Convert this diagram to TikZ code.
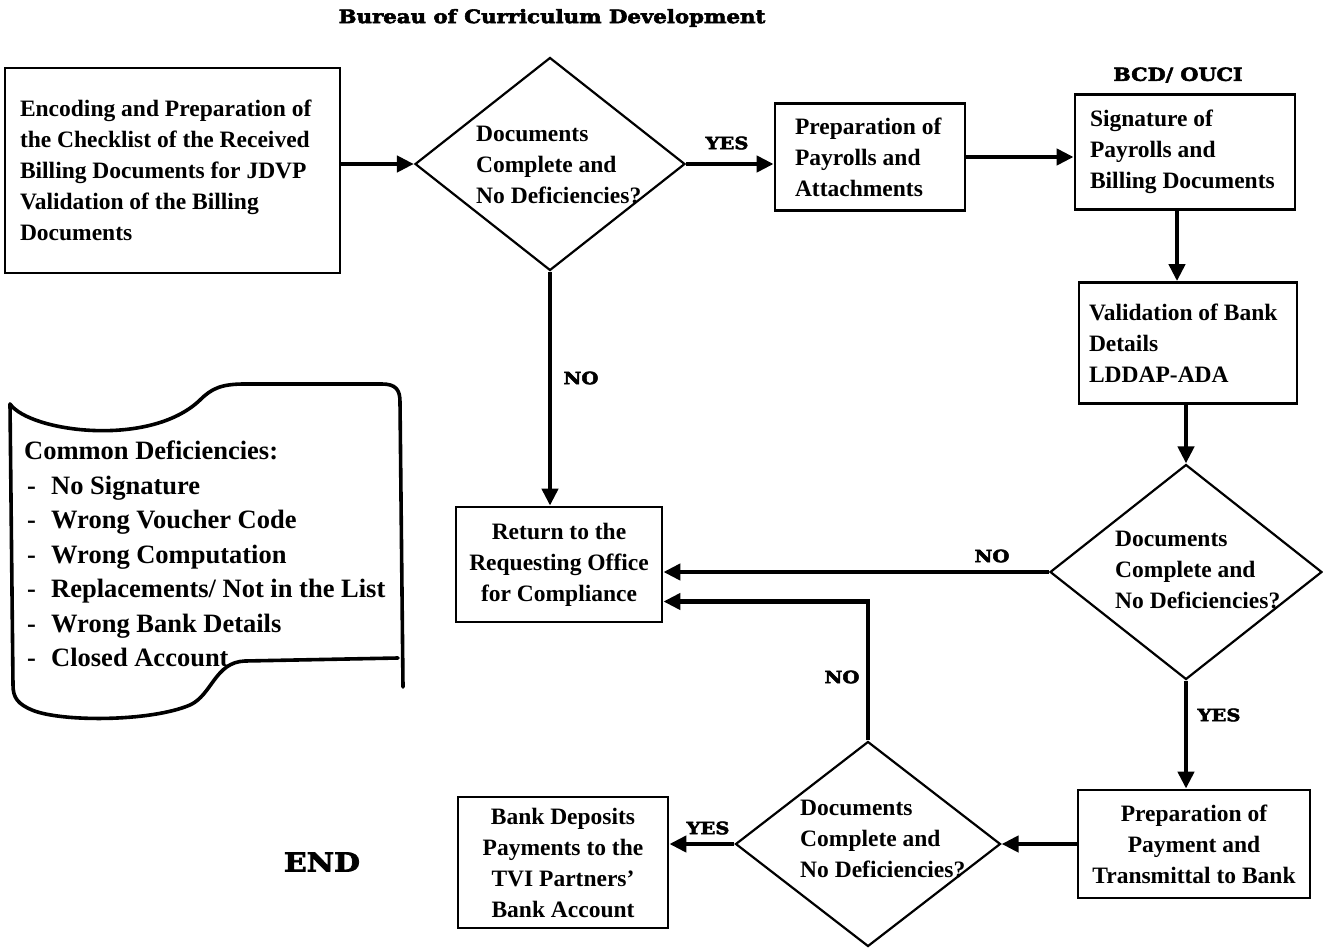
\documentclass[tikz,border=0pt]{standalone}
\usepackage{fontspec}
\setmainfont{Liberation Serif}
\newfontfamily\heavyfont[FakeStretch=1.15, FakeBold=3, BoldFeatures={FakeBold=3}]{DejaVu Serif}
\usetikzlibrary{shapes.geometric,arrows.meta}
\begin{document}
\begin{tikzpicture}[x=1pt,y=-1pt,
  txt/.style={font=\bfseries\fontsize{23.5}{31}\selectfont},
  box/.style={draw, line width=2.8pt, txt, inner sep=0pt, align=flush left},
  cbox/.style={draw, line width=2.8pt, txt, inner sep=0pt, align=center},
  dia/.style={diamond, draw, line width=2.2pt, inner sep=0pt},
  dtxt/.style={txt, align=flush left, anchor=west, inner sep=0pt},
  arr/.style={line width=4.4pt, -{Triangle[length=17pt,width=16pt]}},
  lbl/.style={font=\heavyfont\bfseries\fontsize{17}{17}\selectfont, inner sep=0pt},
]
\useasboundingbox (0,0) rectangle (1323,950);

% title labels
\node[lbl, font=\heavyfont\bfseries\fontsize{18.5}{18.5}\selectfont] (title) at (552,18) {Bureau of Curriculum Development};
\node[lbl, font=\heavyfont\bfseries\fontsize{18}{18}\selectfont] (bcd) at (1178,75) {BCD/ OUCI};
\node[lbl, font=\heavyfont\bfseries\fontsize{26}{26}\selectfont] (endl) at (322,862) {END};

% boxes
\node[box, minimum width=335pt, minimum height=205pt, text width=305pt] (b1) at (172.5,170.5)
  {Encoding and Preparation of\\the Checklist of the Received\\Billing Documents for JDVP\\Validation of the Billing\\Documents};
\node[dia, minimum width=270pt, minimum height=213pt] (d1) at (550,164) {};
\node[dtxt] (d1t) at (476,165) {Documents\\Complete and\\No Deficiencies?};
\node[box, minimum width=190pt, minimum height=107pt, text width=150pt] (b2) at (870,157)
  {Preparation of\\Payrolls and\\Attachments};
\node[box, minimum width=220pt, minimum height=115pt, text width=190pt] (b3) at (1185,152)
  {Signature of\\Payrolls and\\Billing Documents};
\node[box, minimum width=218pt, minimum height=121pt, text width=198pt] (b4) at (1188,343)
  {Validation of Bank\\Details\\LDDAP-ADA};
\node[dia, minimum width=272pt, minimum height=215pt] (d2) at (1186,572) {};
\node[dtxt] (d2t) at (1115,570) {Documents\\Complete and\\No Deficiencies?};
\node[cbox, minimum width=232pt, minimum height=108pt] (b5) at (1194,844)
  {Preparation of\\Payment and\\Transmittal to Bank};
\node[dia, minimum width=265pt, minimum height=205pt] (d3) at (868,844) {};
\node[dtxt] (d3t) at (800,839) {Documents\\Complete and\\No Deficiencies?};
\node[cbox, minimum width=210pt, minimum height=131pt] (b6) at (563,862.5)
  {Bank Deposits\\Payments to the\\TVI Partners'\\Bank Account};
\node[cbox, minimum width=206pt, minimum height=115pt] (ret) at (559,564.5)
  {Return to the\\Requesting Office\\for Compliance};

% deficiencies document shape
\draw[line width=3.6pt, line join=round, line cap=round]
  (10,404) .. controls (30,432) and (150,448) .. (200,400)
  .. controls (212,388) and (222,384) .. (245,384) -- (382,384)
  .. controls (396,384) and (400,390) .. (400,402) -- (403,687);
\draw[line width=3.6pt, line join=round, line cap=round]
  (398,658) -- (245,661) .. controls (215,662) and (212,695) .. (190,705)
  .. controls (150,722) and (60,722) .. (32,710)
  .. controls (18,704) and (13,698) .. (13,685) -- (10,404);
\node[txt, font=\bfseries\fontsize{26.5}{34.5}\selectfont, align=flush left, anchor=west, inner sep=0pt] (defs) at (24,554)
  {Common Deficiencies:\\
   \hspace*{3pt}\makebox[24pt][l]{-}No Signature\\
   \hspace*{3pt}\makebox[24pt][l]{-}Wrong Voucher Code\\
   \hspace*{3pt}\makebox[24pt][l]{-}Wrong Computation\\
   \hspace*{3pt}\makebox[24pt][l]{-}Replacements/ Not in the List\\
   \hspace*{3pt}\makebox[24pt][l]{-}Wrong Bank Details\\
   \hspace*{3pt}\makebox[24pt][l]{-}Closed Account};

% connectors
\draw[arr] (b1.east |- d1.west) -- (d1.west);
\draw[arr] (d1.east) -- (b2.west |- d1.east);
\draw[arr] (b2.east) -- (b3.west |- b2.east);
\draw[arr] ([xshift=-8pt]b3.south) -- ([xshift=-8pt]b3.south |- b4.north);
\draw[arr] (b4.south -| d2.north) -- (d2.north);
\draw[arr] (d2.west) -- (ret.east |- d2.west);
\draw[arr] (d2.south) -- (d2.south |- b5.north);
\draw[arr] (b5.west) -- (d3.east);
\draw[arr] (d3.west) -- (b6.east |- d3.west);
\draw[arr] (d3.north) |- ([yshift=-37pt]ret.east);
\draw[arr] (d1.south) -- (d1.south |- ret.north);

% connector labels
\node[lbl] (yes1) at (727,143) {YES};
\node[lbl] (no1) at (581,378) {NO};
\node[lbl] (no2) at (992,556) {NO};
\node[lbl] (yes2) at (1219,715) {YES};
\node[lbl] (no3) at (842,677) {NO};
\node[lbl] (yes3) at (708,828) {YES};
\end{tikzpicture}
\end{document}
